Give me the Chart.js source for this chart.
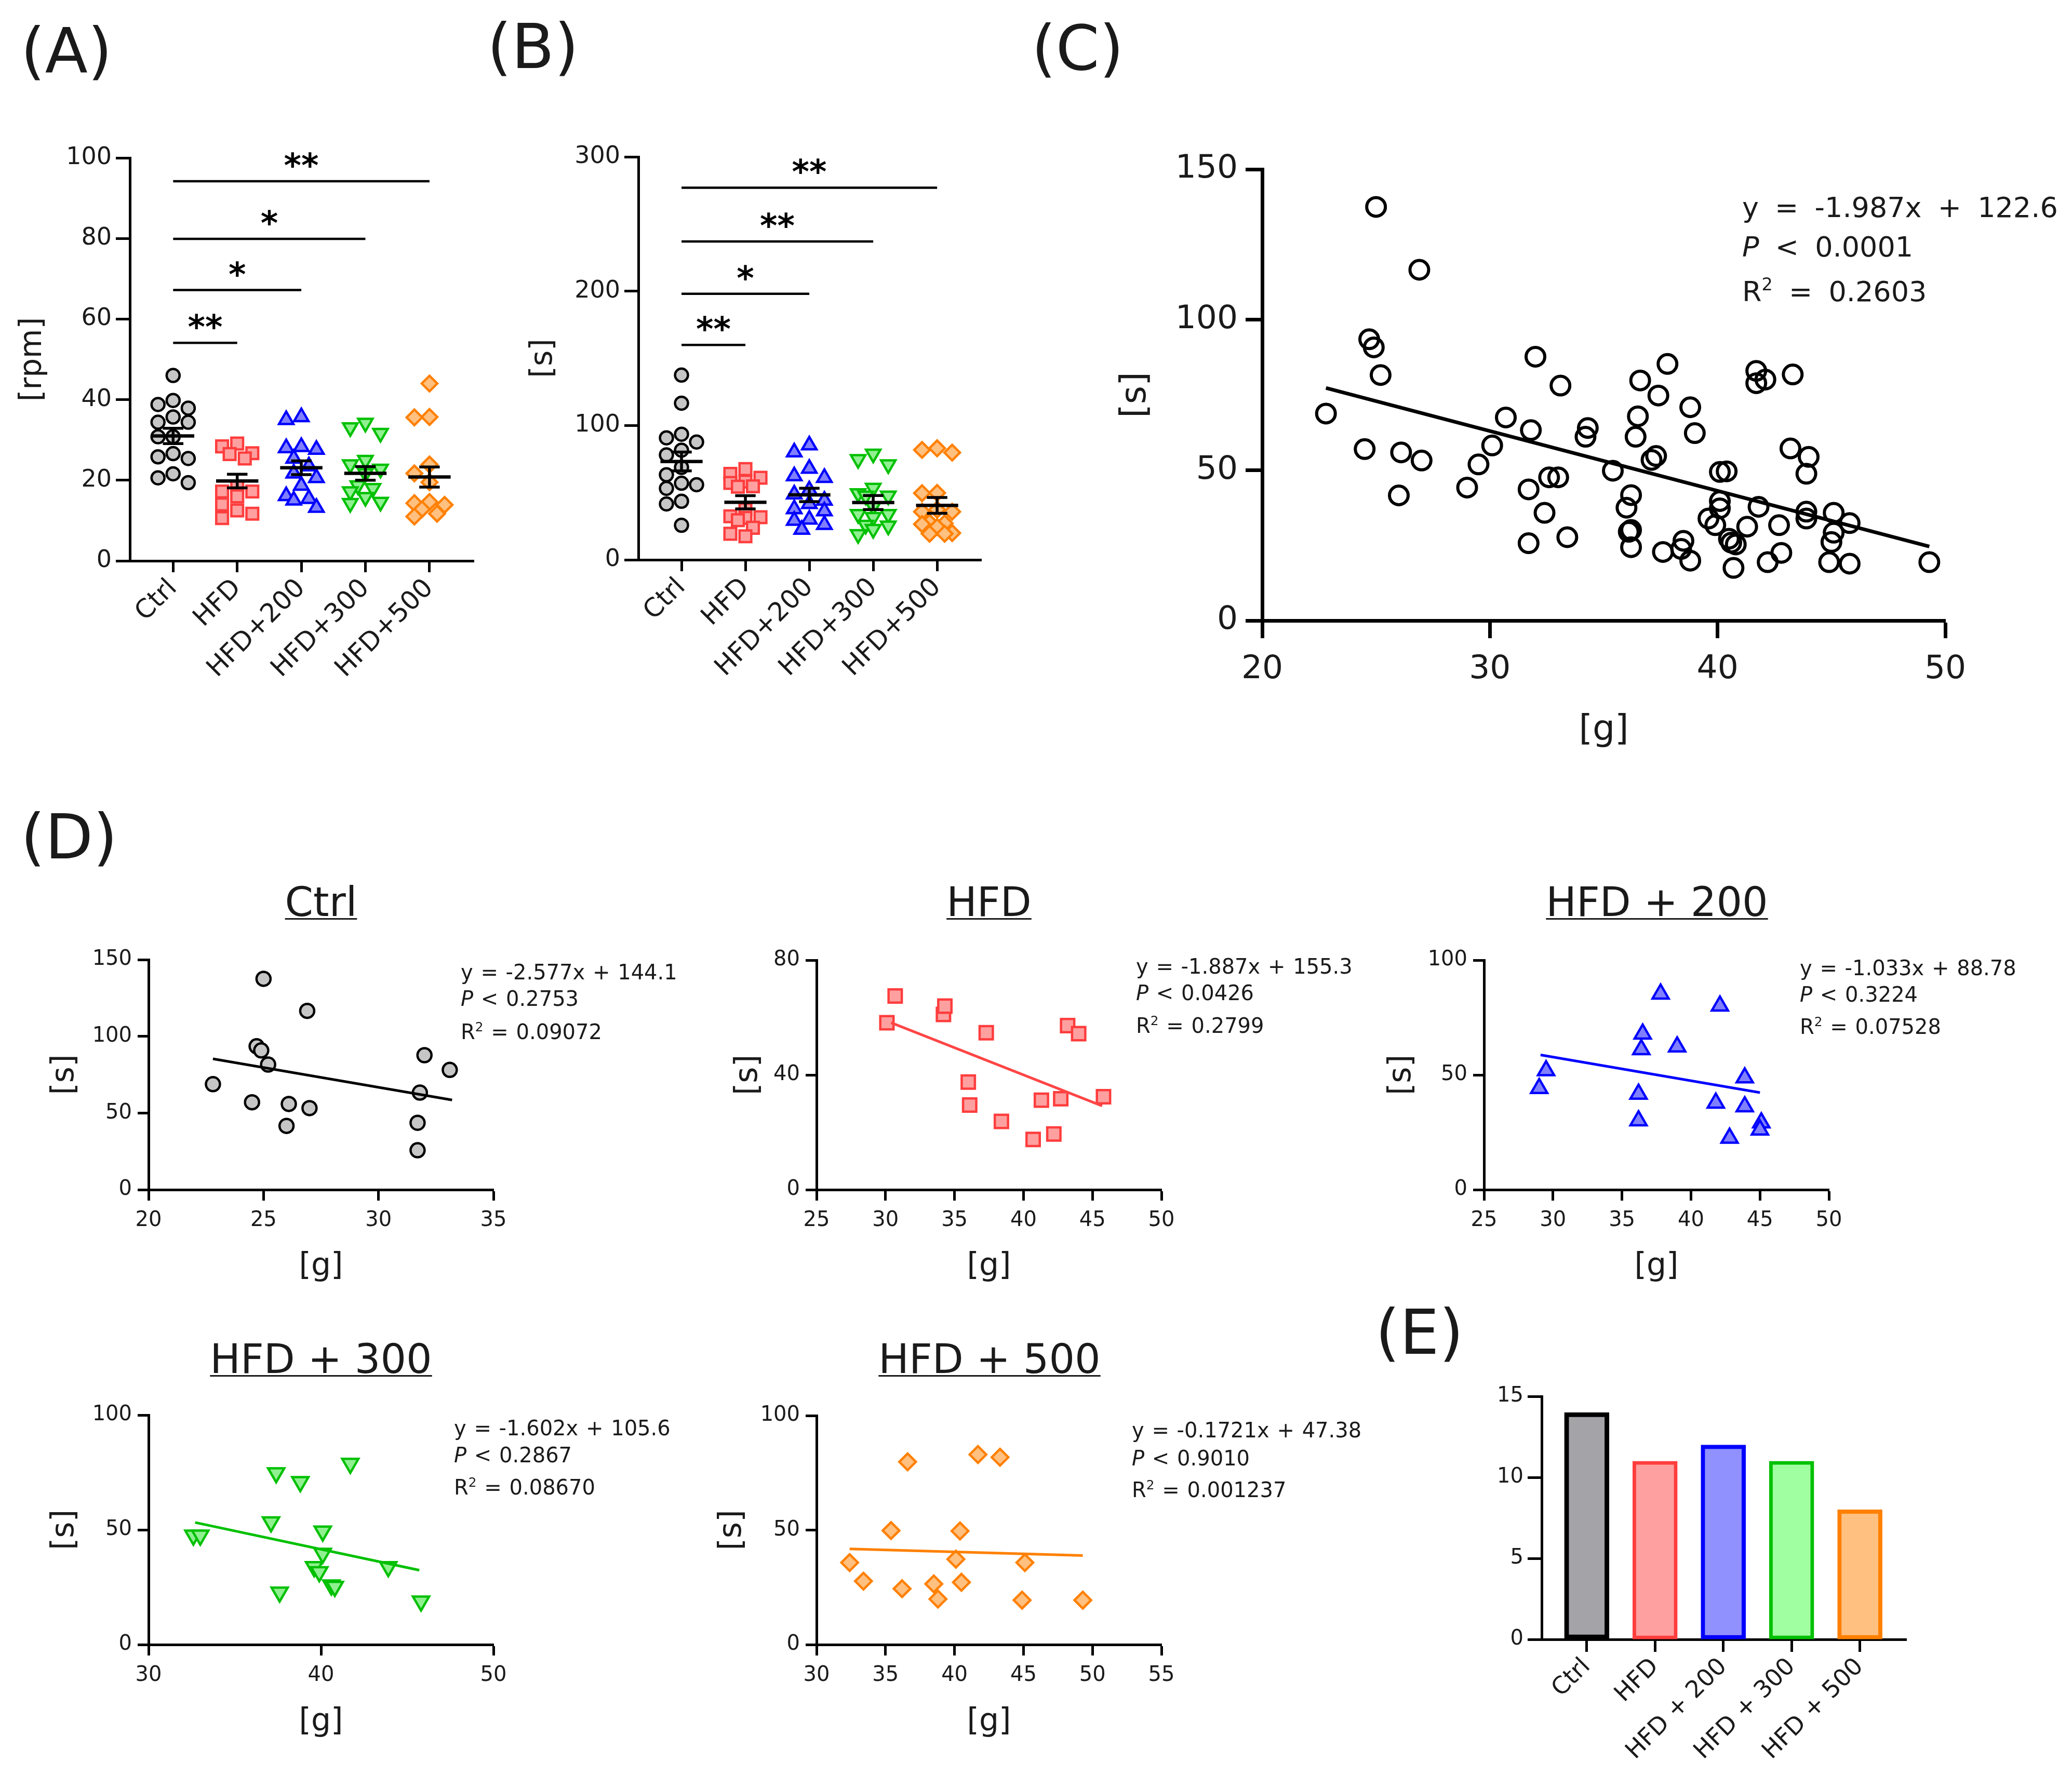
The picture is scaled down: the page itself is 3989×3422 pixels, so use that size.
<!DOCTYPE html>
<html><head><meta charset="utf-8">
<script src="https://cdn.jsdelivr.net/npm/chart.js@4.4.1/dist/chart.umd.min.js"></script>
<style>
html,body{margin:0;padding:0;background:#fff;}
#page{position:relative;width:3989px;height:3422px;overflow:hidden;background:#fff;font-family:'DejaVu Sans',sans-serif;color:#1a1a1a;}
canvas{position:absolute;}
.t{position:absolute;white-space:nowrap;line-height:1;z-index:5;}
.pl{font-size:120px;}
.ttl{font-size:78px;text-decoration:underline;text-decoration-thickness:3px;text-underline-offset:4px;text-align:center;width:900px;}
.eq{font-size:40px;word-spacing:2px;}
.eqc{font-size:54px;word-spacing:14px;}
.sup{font-size:.62em;position:relative;top:-.62em;line-height:0;}
</style></head>
<body><div id="page">
<div class="t pl" style="left:40px;top:38px">(A)</div>
<div class="t pl" style="left:938px;top:30px">(B)</div>
<div class="t pl" style="left:1986px;top:33px">(C)</div>
<div class="t pl" style="left:40px;top:1552px">(D)</div>
<div class="t pl" style="left:2648px;top:2506px">(E)</div>

<div class="t ttl" style="left:168px;top:1698px">Ctrl</div>
<div class="t ttl" style="left:1454px;top:1698px">HFD</div>
<div class="t ttl" style="left:2740px;top:1698px">HFD + 200</div>
<div class="t ttl" style="left:168px;top:2578px">HFD + 300</div>
<div class="t ttl" style="left:1455px;top:2578px">HFD + 500</div>

<div class="t eqc" style="left:3354px;top:373px">y = -1.987x + 122.6</div>
<div class="t eqc" style="left:3354px;top:449px"><i>P</i> &lt; 0.0001</div>
<div class="t eqc" style="left:3354px;top:535px">R<span class="sup">2</span> = 0.2603</div>

<div class="t eq" style="left:887px;top:1852px">y = -2.577x + 144.1</div>
<div class="t eq" style="left:887px;top:1903px"><i>P</i> &lt; 0.2753</div>
<div class="t eq" style="left:887px;top:1967px">R<span class="sup">2</span> = 0.09072</div>

<div class="t eq" style="left:2187px;top:1841px">y = -1.887x + 155.3</div>
<div class="t eq" style="left:2187px;top:1892px"><i>P</i> &lt; 0.0426</div>
<div class="t eq" style="left:2187px;top:1955px">R<span class="sup">2</span> = 0.2799</div>

<div class="t eq" style="left:3465px;top:1844px">y = -1.033x + 88.78</div>
<div class="t eq" style="left:3465px;top:1895px"><i>P</i> &lt; 0.3224</div>
<div class="t eq" style="left:3465px;top:1957px">R<span class="sup">2</span> = 0.07528</div>

<div class="t eq" style="left:874px;top:2730px">y = -1.602x + 105.6</div>
<div class="t eq" style="left:874px;top:2782px"><i>P</i> &lt; 0.2867</div>
<div class="t eq" style="left:874px;top:2844px">R<span class="sup">2</span> = 0.08670</div>

<div class="t eq" style="left:2179px;top:2734px">y = -0.1721x + 47.38</div>
<div class="t eq" style="left:2179px;top:2788px"><i>P</i> &lt; 0.9010</div>
<div class="t eq" style="left:2179px;top:2849px">R<span class="sup">2</span> = 0.001237</div>
</div>
<script>
// ---------------- DATA ----------------
const groups = ['Ctrl', 'HFD', 'HFD+200', 'HFD+300', 'HFD+500'];
const groupsE = ['Ctrl', 'HFD', 'HFD + 200', 'HFD + 300', 'HFD + 500'];

// Panel A  [rpm]
const rpmCtrl = [46.0, 39.8, 38.8, 37.9, 35.7, 34.4, 34.4, 30.8, 30.8, 26.6, 25.8, 25.4, 21.6, 20.6, 19.4];
const rpmHFD  = [29.1, 28.4, 26.7, 26.5, 25.4, 18.5, 17.2, 17.2, 16.0, 14.0, 12.5, 11.7, 10.6];
const rpmH200 = [35.7, 35.0, 28.3, 28.0, 27.6, 25.4, 23.5, 21.7, 20.6, 18.7, 16.1, 15.4, 15.0, 13.2];
const rpmH300 = [34.2, 33.1, 31.7, 25.0, 23.9, 22.8, 21.7, 18.7, 18.0, 17.2, 15.8, 14.6, 14.3];
const rpmH500 = [44.0, 35.7, 35.6, 23.9, 21.7, 19.5, 14.6, 14.3, 13.9, 12.8, 11.7, 11.0];
const rpmMean = [31.0, 19.8, 23.1, 21.7, 20.8];
const rpmSem  = [1.9, 1.7, 1.7, 1.7, 2.5];
const rpmSigTo = [1, 2, 3, 4];
const rpmSigY  = [54.1, 67.2, 79.9, 94.2];
const rpmSigText = ['**', '*', '*', '**'];

// Panels B, C, D : body weight [g] and time [s]
const wCtrl = [22.8, 24.5, 24.7, 24.9, 25.0, 25.2, 26.0, 26.1, 26.9, 27.0, 31.8, 31.7, 31.7, 32.0, 33.1];
const sCtrl = [68.8, 57.0, 93.5, 90.8, 137.5, 81.6, 41.6, 55.9, 116.6, 53.2, 63.3, 43.6, 25.7, 87.7, 78.1];
const wHFD  = [30.7, 30.1, 34.2, 34.3, 37.3, 43.2, 44.0, 36.0, 36.1, 38.4, 40.7, 42.2, 41.3, 42.7, 45.8];
const sHFD  = [67.5, 58.2, 61.1, 64.0, 54.7, 57.2, 54.4, 37.5, 29.5, 23.8, 17.5, 19.4, 31.2, 31.7, 32.4];
const wH200 = [37.8, 42.1, 36.5, 36.4, 39.0, 29.5, 29.0, 36.2, 36.2, 41.8, 43.9, 43.9, 42.8, 45.1, 45.0];
const sH200 = [85.3, 80.1, 67.9, 61.1, 62.3, 51.9, 44.2, 41.7, 30.1, 37.8, 48.8, 36.2, 22.5, 29.2, 26.1];
const wH300 = [32.6, 33.0, 37.4, 38.8, 41.7, 37.1, 40.1, 40.1, 39.6, 39.9, 40.6, 40.8, 37.6, 43.9, 45.8];
const sH300 = [47.6, 47.6, 74.8, 70.9, 78.9, 53.4, 49.4, 39.7, 33.9, 31.7, 25.9, 25.3, 22.8, 33.9, 18.9];
const wH500 = [32.4, 33.4, 35.4, 36.2, 36.6, 38.5, 38.8, 40.1, 40.4, 40.5, 41.7, 43.3, 45.1, 44.9, 49.3];
const sH500 = [35.8, 27.7, 49.8, 24.4, 79.8, 26.5, 19.9, 37.3, 49.6, 27.2, 83.0, 81.8, 35.8, 19.4, 19.4];
const sMean = [73.2, 42.8, 48.3, 42.6, 40.5];
const sSem  = [7.0, 4.9, 5.0, 5.2, 5.9];
const sSigTo = [1, 2, 3, 4];
const sSigY  = [160, 198, 237, 277];
const sSigText = ['**', '*', '**', '**'];

// regression lines (x range and fitted y at its ends)
const fitAllX = [22.8, 49.3];
const fitAllY = [77.3, 24.6];
const fitX = [[22.8, 33.2], [30.4, 45.7], [29.1, 45.0], [32.7, 45.7], [32.4, 49.3]];
const fitY = [[85.3, 58.5], [58.2, 29.2], [58.7, 42.3], [53.2, 32.4], [41.8, 38.9]];

// Panel E
const countE = [14, 11, 12, 11, 8];

// ---------------- STYLE / LAYOUT ----------------
const FONT = "'DejaVu Sans', sans-serif";
const INK = '#1a1a1a';
const styles = [
  {ps:'circle',   rot:0,   bg:'#c6c6c6', bc:'#000000', line:'#000000', barBg:'#a3a3a8'},
  {ps:'rect',     rot:0,   bg:'#ffa0a0', bc:'#ff3d3d', line:'#ff4545', barBg:'#ffa0a0'},
  {ps:'triangle', rot:0,   bg:'#8080ff', bc:'#0000ff', line:'#0000ff', barBg:'#9090ff'},
  {ps:'triangle', rot:180, bg:'#90f090', bc:'#00c000', line:'#00c000', barBg:'#a0ffa0'},
  {ps:'rectRot',  rot:0,   bg:'#ffc080', bc:'#ff8000', line:'#ff8000', barBg:'#ffc080'}
];
const radAB = [12.5, 16, 16, 16, 15];
const radD  = [13.5, 18, 18, 18, 16];

const page = document.getElementById('page');
function makeCanvas(area, m) {
  const c = document.createElement('canvas');
  const W = (area.r - area.l) + m.l + m.r, H = (area.b - area.t) + m.t + m.b;
  c.width = W; c.height = H;
  c.style.left = (area.l - m.l) + 'px'; c.style.top = (area.t - m.t) + 'px';
  c.style.width = W + 'px'; c.style.height = H + 'px';
  page.appendChild(c);
  return c;
}
function yScale(o) {
  return {
    type:'linear', position:'left', min:o.min, max:o.max,
    ticks:{stepSize:o.step, font:{family:FONT, size:o.fs}, color:INK, padding:o.pad},
    grid:{display:true, drawOnChartArea:false, drawTicks:true, tickLength:o.tl, tickWidth:o.bw, tickColor:'#000'},
    border:{display:true, width:o.bw, color:'#000'},
    title:{display:!!o.title, text:o.title || '', font:{family:FONT, size:o.tfs}, color:INK, padding:0},
    afterFit:(s) => { s.width = o.w; }
  };
}
function xScale(o) {
  const sc = {
    type:'linear', position:'bottom', min:o.min, max:o.max, offset:false,
    ticks:{stepSize:o.step, font:{family:FONT, size:o.fs}, color:INK, padding:o.pad, autoSkip:false,
           maxRotation:o.rot || 0, minRotation:o.rot || 0},
    grid:{display:true, offset:false, drawOnChartArea:false, drawTicks:true, tickLength:o.tl, tickWidth:o.bw, tickColor:'#000'},
    border:{display:true, width:o.bw, color:'#000'},
    title:{display:!!o.title, text:o.title || '', font:{family:FONT, size:o.tfs}, color:INK, padding:0},
    afterFit:(s) => { s.height = o.h; }
  };
  if (o.cats) {
    sc.afterBuildTicks = (s) => { s.ticks = o.cats.map((c, i) => ({value:i})); };
    sc.ticks.callback = (v) => o.cats[v];
  }
  return sc;
}
function baseOpts(m, scales, extra) {
  return {
    responsive:false, maintainAspectRatio:false, animation:false, devicePixelRatio:1,
    layout:{padding:{top:m.t, right:m.r, left:0, bottom:0}},
    plugins:Object.assign({legend:{display:false}, tooltip:{enabled:false}}, extra || {}),
    scales
  };
}
// deterministic column-scatter (beeswarm) placement on a small grid of horizontal slots
function swarm(vals, ci, pxX, pxY, d, step, maxK) {
  const idx = vals.map((v, i) => i).sort((a, b) => vals[b] - vals[a]);
  const cands = [0];
  for (let k = 1; k <= maxK; k++) cands.push(-k * step, k * step);
  const placed = [], out = [];
  idx.forEach(i => {
    const py = vals[i] * pxY;
    let best = 0, bestD = -1;
    for (const c of cands) {
      const md = placed.reduce((mn, p) => Math.min(mn, Math.hypot(p.x - c, p.y - py)), Infinity);
      if (md >= d) { best = c; break; }
      if (md > bestD) { bestD = md; best = c; }
    }
    placed.push({x:best, y:py});
    out.push({x:ci + best / pxX, y:vals[i]});
  });
  return out;
}
function meanSets(mean, sem) {
  const m = [], e = [];
  mean.forEach((v, i) => {
    m.push({x:i - 0.33, y:v}, {x:i + 0.33, y:v}, {x:i, y:null});
    const hi = v + sem[i], lo = v - sem[i];
    e.push({x:i, y:lo}, {x:i, y:hi}, {x:i, y:null},
           {x:i - 0.16, y:hi}, {x:i + 0.16, y:hi}, {x:i, y:null},
           {x:i - 0.16, y:lo}, {x:i + 0.16, y:lo}, {x:i, y:null});
  });
  return [
    {data:m, showLine:true, pointRadius:0, borderColor:'#000', borderWidth:6.5, spanGaps:false, order:0},
    {data:e, showLine:true, pointRadius:0, borderColor:'#000', borderWidth:5.5, spanGaps:false, order:0}
  ];
}
function sigSet(to, ys) {
  const d = [];
  to.forEach((t, i) => d.push({x:0, y:ys[i]}, {x:t, y:ys[i]}, {x:0, y:null}));
  return {data:d, showLine:true, pointRadius:0, borderColor:'#000', borderWidth:4.5, spanGaps:false, order:0};
}
const sigPlugin = {
  id:'sig',
  afterDatasetsDraw(chart, args, opts) {
    if (!opts || !opts.to) return;
    const {ctx} = chart; const x = chart.scales.x, y = chart.scales.y;
    ctx.save();
    ctx.font = 'bold ' + opts.size + 'px ' + FONT;
    ctx.textAlign = 'center'; ctx.textBaseline = 'alphabetic'; ctx.fillStyle = '#000';
    opts.to.forEach((t, i) => {
      ctx.fillText(opts.text[i], x.getPixelForValue(t / 2), y.getPixelForValue(opts.ys[i]) - opts.gap);
    });
    ctx.restore();
  }
};
function columnChart(area, m, yo, vals, mean, sem, pxY, sigTo, sigY, sigText) {
  const c = makeCanvas(area, m);
  const ds = [];
  vals.forEach((v, i) => {
    const st = styles[i];
    ds.push({data:swarm(v, i, 123, pxY, 27, 14.5, 2), pointStyle:st.ps, rotation:st.rot, pointRadius:radAB[i],
      backgroundColor:st.bg, borderColor:st.bc, borderWidth:4.5, order:2});
  });
  ds.push(...meanSets(mean, sem));
  ds.push(sigSet(sigTo, sigY));
  new Chart(c, {
    type:'scatter', data:{datasets:ds}, plugins:[sigPlugin],
    options:baseOpts(m, {
      x:xScale({min:-0.675, max:4.69, cats:groups, rot:45, fs:50, pad:2, tl:22, bw:5, h:m.b}),
      y:yScale(Object.assign({fs:46, pad:8, tl:27, bw:5, tfs:58, w:m.l}, yo))
    }, {sig:{to:sigTo, ys:sigY, text:sigText, size:64, gap:8}})
  });
}

// ---------------- Panel A ----------------
columnChart({l:250, r:912, t:304, b:1080}, {l:221, t:60, r:40, b:270},
  {min:0, max:100, step:20, title:'[rpm]'},
  [rpmCtrl, rpmHFD, rpmH200, rpmH300, rpmH500], rpmMean, rpmSem, 7.76, rpmSigTo, rpmSigY, rpmSigText);

// ---------------- Panel B ----------------
columnChart({l:1229, r:1889, t:302, b:1078}, {l:217, t:60, r:40, b:270},
  {min:0, max:300, step:100, title:'[s]'},
  [sCtrl, sHFD, sH200, sH300, sH500], sMean, sSem, 2.587, sSigTo, sSigY, sSigText);

// ---------------- Panel C ----------------
(function () {
  const area = {l:2430, r:3745, t:326, b:1195}, m = {l:283, t:60, r:70, b:253};
  const c = makeCanvas(area, m);
  const allW = [].concat(wCtrl, wHFD, wH200, wH300, wH500);
  const allS = [].concat(sCtrl, sHFD, sH200, sH300, sH500);
  new Chart(c, {
    type:'scatter',
    data:{datasets:[
      {data:fitAllX.map((x, i) => ({x, y:fitAllY[i]})), showLine:true, pointRadius:0, borderColor:'#000', borderWidth:7, order:0},
      {data:allW.map((x, i) => ({x, y:allS[i]})), pointStyle:'circle', pointRadius:18,
        backgroundColor:'rgba(255,255,255,0)', borderColor:'#000', borderWidth:6, order:1}
    ]},
    options:baseOpts(m, {
      x:xScale({min:20, max:50, step:10, fs:63, pad:23, tl:34, bw:7, title:'[g]', tfs:68, h:m.b}),
      y:yScale({min:0, max:150, step:50, fs:63, pad:15, tl:32, bw:7, title:'[s]', tfs:68, w:m.l})
    })
  });
})();

// ---------------- Panel D ----------------
const dW = [wCtrl, wHFD, wH200, wH300, wH500];
const dS = [sCtrl, sHFD, sH200, sH300, sH500];
const dLayout = [
  {area:{l:286,  r:950,  t:1848, b:2291}, ml:197, mb:184, y:[0, 150, 50], x:[20, 35, 5]},
  {area:{l:1572, r:2236, t:1849, b:2291}, ml:167, mb:184, y:[0, 80, 40],  x:[25, 50, 5]},
  {area:{l:2857, r:3521, t:1849, b:2291}, ml:194, mb:184, y:[0, 100, 50], x:[25, 50, 5]},
  {area:{l:286,  r:950,  t:2725, b:3167}, ml:197, mb:185, y:[0, 100, 50], x:[30, 50, 10]},
  {area:{l:1572, r:2236, t:2726, b:3167}, ml:198, mb:185, y:[0, 100, 50], x:[30, 55, 5]}
];
dLayout.forEach((L, i) => {
  const m = {l:L.ml, t:50, r:50, b:L.mb};
  const c = makeCanvas(L.area, m);
  const st = styles[i];
  new Chart(c, {
    type:'scatter',
    data:{datasets:[
      {data:fitX[i].map((x, k) => ({x, y:fitY[i][k]})), showLine:true, pointRadius:0, borderColor:st.line, borderWidth:5, order:0},
      {data:dW[i].map((x, k) => ({x, y:dS[i][k]})), pointStyle:st.ps, rotation:st.rot, pointRadius:radD[i],
        backgroundColor:st.bg, borderColor:st.bc, borderWidth:4.5, order:1}
    ]},
    options:baseOpts(m, {
      x:xScale({min:L.x[0], max:L.x[1], step:L.x[2], fs:40, pad:15, tl:21, bw:5, title:'[g]', tfs:60, h:m.b}),
      y:yScale({min:L.y[0], max:L.y[1], step:L.y[2], fs:40, pad:11, tl:21, bw:5, title:'[s]', tfs:60, w:m.l})
    })
  });
});

// ---------------- Panel E ----------------
(function () {
  const area = {l:2968, r:3670, t:2689, b:3157}, m = {l:200, t:50, r:40, b:250};
  const c = makeCanvas(area, m);
  new Chart(c, {
    type:'bar',
    data:{datasets:[{
      data:countE.map((v, i) => ({x:i, y:v})),
      backgroundColor:styles.map(s => s.barBg), borderColor:styles.map(s => s.bc),
      borderWidth:[9, 7, 8, 7, 8], borderSkipped:false, barThickness:86
    }]},
    options:baseOpts(m, {
      x:xScale({min:-0.66, max:4.68, cats:groupsE, rot:45, fs:46, pad:2, tl:24, bw:5, h:m.b}),
      y:yScale({min:0, max:15, step:5, fs:40, pad:8, tl:27, bw:5, w:m.l})
    })
  });
})();
</script>
</body></html>
